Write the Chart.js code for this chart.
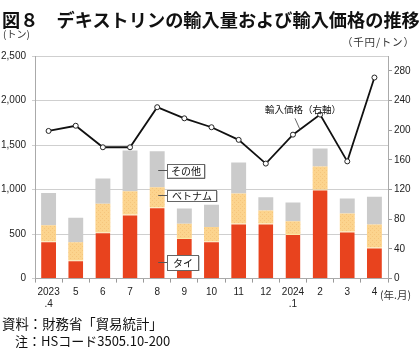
<!DOCTYPE html>
<html>
<head>
<meta charset="utf-8">
<script src="https://cdn.jsdelivr.net/npm/chart.js@4/dist/chart.umd.min.js"></script>
<style>
  body { margin: 0; background: #fff; }
  #wrap { position: relative; width: 420px; height: 351px; overflow: hidden; font-family: "Noto Sans CJK JP", sans-serif; color: #111; }
  #wrap canvas { position: absolute; left: 0; top: 0; }
  .txt { position: absolute; white-space: nowrap; line-height: 1; }
  #title { left: 2px; top: 10px; font-size: 18.2px; font-weight: bold; }
  #unitL { left: 3px; top: 29px; font-size: 10px; color: #333; }
  #unitR { left: 342px; top: 37px; font-size: 10.5px; color: #333; letter-spacing: 0.8px; }
  #unitX { left: 380px; top: 290px; font-size: 10.5px; color: #333; }
  #src { left: 2px; top: 317px; font-size: 13.4px; }
  #note { left: 15px; top: 334px; font-size: 13px; }
</style>
</head>
<body>
<div id="wrap">
  <canvas id="chart" width="420" height="351"></canvas>
  <div class="txt" id="title">図８　デキストリンの輸入量および輸入価格の推移</div>
  <div class="txt" id="unitL">(トン)</div>
  <div class="txt" id="unitR">（千円/トン）</div>
  <div class="txt" id="unitX">(年.月)</div>
  <div class="txt" id="src">資料：財務省「貿易統計」</div>
  <div class="txt" id="note">注：HSコード3505.10-200</div>
</div>
<script>
// Data
const months = [['2023', '.4'], '5', '6', '7', '8', '9', '10', '11', '12', ['2024', '.1'], '2', '3', '4'];
const thai = [420, 207, 520, 720, 800, 455, 420, 620, 620, 500, 1000, 530, 350];
const vietnam = [180, 200, 320, 260, 225, 160, 160, 335, 145, 145, 260, 200, 258];
const others = [362, 275, 285, 460, 405, 173, 250, 350, 150, 210, 202, 170, 310];
const importPrice = [199, 206, 177, 177, 231, 216, 204, 187, 155, 194, 221, 158, 271];
const leftTicks = [0, 500, 1000, 1500, 2000, 2500];
const rightTicks = [0, 40, 80, 120, 160, 200, 240, 280];

const numFont = { family: '"Liberation Sans", Arial, sans-serif', size: 10 };

// dotted fill for the Vietnam segment
function dotPattern() {
  const c = document.createElement('canvas');
  c.width = 4; c.height = 4;
  const g = c.getContext('2d');
  g.fillStyle = '#fcd48e';
  g.fillRect(0, 0, 4, 4);
  g.fillStyle = '#f6c57c';
  g.fillRect(0, 0, 1, 1);
  g.fillRect(2, 2, 1, 1);
  return g.createPattern(c, 'repeat');
}

// callout boxes and leader lines
const callouts = {
  id: 'callouts',
  afterDatasetsDraw(chart) {
    const ctx = chart.ctx;
    const x = chart.scales.x, y = chart.scales.y, y1 = chart.scales.y1;
    const boxes = [
      { text: 'その他', cat: 4, val: 1217, w: 37, h: 14 },
      { text: 'ベトナム', cat: 4, val: 936, w: 49, h: 11 },
      { text: 'タイ', cat: 4, val: 186, w: 31, h: 15 }
    ];
    ctx.save();
    ctx.font = '10px "Noto Sans CJK JP", sans-serif';
    ctx.textBaseline = 'middle';
    ctx.textAlign = 'center';
    boxes.forEach(b => {
      const cx = x.getPixelForValue(b.cat);
      const cy = Math.round(y.getPixelForValue(b.val)) + 0.5;
      const bx = Math.round(cx + 10) + 0.5;
      ctx.strokeStyle = '#555';
      ctx.lineWidth = 1;
      ctx.beginPath();
      ctx.moveTo(cx + 1, cy);
      ctx.lineTo(bx, cy);
      ctx.stroke();
      ctx.fillStyle = '#999';
      ctx.fillRect(bx + 1, cy - b.h / 2 + 1, b.w, b.h);
      ctx.fillStyle = '#fff';
      ctx.fillRect(bx, cy - b.h / 2, b.w, b.h);
      ctx.strokeStyle = '#666';
      ctx.strokeRect(bx, Math.round(cy - b.h / 2) + 0.5, b.w, b.h);
      ctx.fillStyle = '#111';
      ctx.fillText(b.text, bx + b.w / 2, cy + 0.5);
    });
    // price label
    const px = x.getPixelForValue(9);
    ctx.strokeStyle = '#666';
    ctx.beginPath();
    ctx.moveTo(px + 2, y1.getPixelForValue(216));
    ctx.lineTo(px + 7, y1.getPixelForValue(201));
    ctx.stroke();
    ctx.font = '9.5px "Noto Sans CJK JP", sans-serif';
    ctx.fillStyle = '#111';
    ctx.fillText('輸入価格（右軸）', px + 10, y1.getPixelForValue(228));
    ctx.restore();
  }
};

new Chart(document.getElementById('chart'), {
  type: 'bar',
  data: {
    labels: months,
    datasets: [
      {
        type: 'line',
        label: '輸入価格',
        data: importPrice,
        yAxisID: 'y1',
        order: 0,
        borderColor: '#111',
        borderWidth: 1.8,
        pointRadius: 2.5,
        pointBackgroundColor: '#fff',
        pointBorderColor: '#222',
        pointBorderWidth: 1,
        tension: 0
      },
      { label: 'タイ', data: thai, backgroundColor: '#e8431e', stack: 's', order: 1,
        borderColor: '#fde7a6', borderWidth: { top: 1, left: 0, right: 0, bottom: 0 }, borderSkipped: false },
      { label: 'ベトナム', data: vietnam, backgroundColor: dotPattern(), stack: 's', order: 1 },
      { label: 'その他', data: others, backgroundColor: '#cbcbcb', stack: 's', order: 1 }
    ]
  },
  options: {
    responsive: false,
    animation: false,
    layout: { padding: { top: 56, left: 0, right: 0, bottom: 0 } },
    datasets: { bar: { barPercentage: 0.55, categoryPercentage: 1 } },
    plugins: { legend: { display: false }, tooltip: { enabled: false } },
    scales: {
      x: {
        stacked: true,
        grid: { drawOnChartArea: false, tickLength: 4, color: '#999' },
        border: { color: '#aaa' },
        ticks: { color: '#222', font: { ...numFont, lineHeight: 1.2 }, padding: 4, maxRotation: 0, autoSkip: false },
        afterFit: s => { s.height = 72.4; }
      },
      y: {
        stacked: true,
        min: 0, max: 2500,
        afterBuildTicks: s => { s.ticks = leftTicks.map(v => ({ value: v })); },
        grid: { color: '#cfcfcf', tickLength: 3 },
        border: { color: '#aaa' },
        ticks: { color: '#222', font: numFont, padding: 6, callback: v => v.toLocaleString('en-US') },
        afterFit: s => { s.width = 35; }
      },
      y1: {
        position: 'right',
        min: 0, max: 300,
        afterBuildTicks: s => { s.ticks = rightTicks.map(v => ({ value: v })); },
        grid: { drawOnChartArea: false, tickLength: 4, color: '#999' },
        border: { color: '#aaa' },
        ticks: { color: '#222', font: numFont, padding: 2 },
        afterFit: s => { s.width = 32; }
      }
    }
  },
  plugins: [callouts]
});
</script>
</body>
</html>
